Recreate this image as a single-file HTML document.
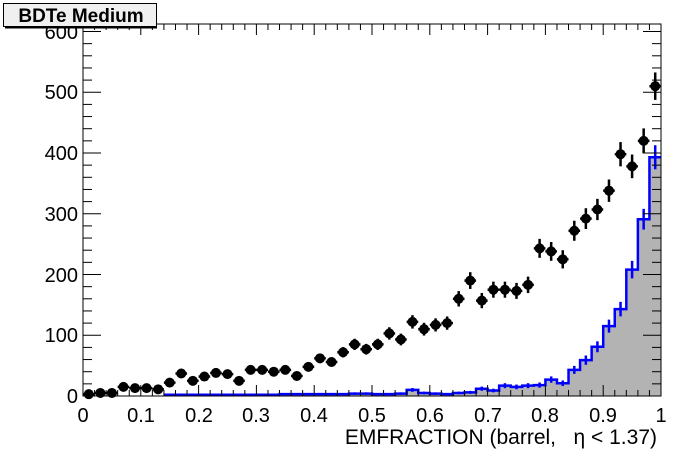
<!DOCTYPE html>
<html><head><meta charset="utf-8"><style>
body{margin:0;background:#fff}
svg{display:block}
text{font-family:"Liberation Sans",sans-serif;fill:#000}
</style></head><body>
<svg id="s" width="696" height="472" viewBox="0 0 696 472">
<rect width="696" height="472" fill="#fff"/>
<g id="g"></g>
<rect x="83" y="24" width="578" height="372" fill="none" stroke="#000" stroke-width="1"/>
<g font-size="20" text-anchor="end">
<text x="78" y="403">0</text>
<text x="78" y="342">100</text>
<text x="78" y="282">200</text>
<text x="78" y="221">300</text>
<text x="78" y="160">400</text>
<text x="78" y="99">500</text>
<text x="78" y="39">600</text>
</g>
<g font-size="20" text-anchor="middle">
<text x="83" y="422">0</text>
<text x="141" y="422">0.1</text>
<text x="199" y="422">0.2</text>
<text x="256" y="422">0.3</text>
<text x="314" y="422">0.4</text>
<text x="372" y="422">0.5</text>
<text x="430" y="422">0.6</text>
<text x="488" y="422">0.7</text>
<text x="545" y="422">0.8</text>
<text x="603" y="422">0.9</text>
<text x="661" y="422">1</text>
</g>
<text x="657" y="444" font-size="21" text-anchor="end">EMFRACTION (barrel,&#160;&#160;&#160;η &lt; 1.37)</text>
<rect x="3.5" y="3.5" width="153" height="23" fill="#f0f0f0" stroke="#000" stroke-width="1"/>
<line x1="5" y1="27.5" x2="157" y2="27.5" stroke="#000" stroke-width="2"/>
<text x="81" y="22" font-size="19" font-weight="bold" text-anchor="middle">BDTe Medium</text>
</svg>
<script>
var X0=83,W=578,Y0=396,K=0.6075;
function X(v){return X0+v*W}function Y(v){return Y0-v*K}
var pts=[3,5,5,15,13,13,11,22,37,25,32,38,36,25,43,43,40,43,33,48,62,56,72,85,77,85,103,93,122,110,117,120,160,190,157,175,175,173,183,243,238,225,272,292,307,338,398,378,420,510];
var hb=[0,0,0,0,0,0,0,2,2,2,2,2,2,2,2,2,2,3,3,3,3,3,3,4,4,3,3,4,10,5,4,3,5,6,12,9,17,15,17,18,27,21,43,59,81,115,143,208,291,393];
var s='';
var d='M'+X(0)+','+Y0;
for(var i=0;i<50;i++){d+=' L'+X(i*0.02)+','+Y(hb[i])+' L'+X((i+1)*0.02)+','+Y(hb[i]);}
d+=' L'+X(1)+','+Y0+' Z';
s+='<path d="'+d+'" fill="#b3b3b3" stroke="none"/>';
var l='M'+X(0.14)+','+Y(hb[7]);
for(var i=7;i<50;i++){l+=' L'+X(i*0.02)+','+Y(hb[i])+' L'+X((i+1)*0.02)+','+Y(hb[i]);}
s+='<path d="'+l+'" fill="none" stroke="#0000ff" stroke-width="2.5"/>';
for(var i=7;i<50;i++){var e=Math.sqrt(hb[i]);if(hb[i]>3)s+='<line x1="'+X(i*0.02+0.01)+'" x2="'+X(i*0.02+0.01)+'" y1="'+Y(hb[i]+e)+'" y2="'+Y(hb[i]-e)+'" stroke="#0000ff" stroke-width="2.5"/>';}
for(var v=0;v<=600;v+=20){var big=v%100==0,t=big?18:9,y=Y(v);
s+='<line x1="83" x2="'+(83+t)+'" y1="'+y+'" y2="'+y+'" stroke="#000"/>';
s+='<line x1="661" x2="'+(661-t)+'" y1="'+y+'" y2="'+y+'" stroke="#000"/>';}
for(var j=0;j<=50;j++){var x=X(j*0.02),t=(j%5==0)?11:6;
s+='<line x1="'+x+'" x2="'+x+'" y1="396" y2="'+(396-t)+'" stroke="#000"/>';
s+='<line x1="'+x+'" x2="'+x+'" y1="24" y2="'+(24+t)+'" stroke="#000"/>';}
for(var i=0;i<50;i++){var x=X(i*0.02+0.01),y=Y(pts[i]),e=Math.sqrt(pts[i])*K;
s+='<line x1="'+x+'" x2="'+x+'" y1="'+(y-e)+'" y2="'+(y+e)+'" stroke="#000" stroke-width="2.5"/>';
s+='<line x1="'+(x-5.8)+'" x2="'+(x+5.8)+'" y1="'+y+'" y2="'+y+'" stroke="#000" stroke-width="2.5"/>';
s+='<circle cx="'+x+'" cy="'+y+'" r="5" fill="#000"/>';}
document.getElementById('g').innerHTML=s;
</script>
</body></html>
